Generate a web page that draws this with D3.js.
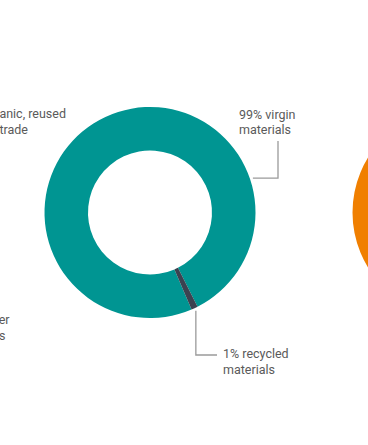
<!DOCTYPE html>
<html><head><meta charset="utf-8">
<script src="https://cdn.jsdelivr.net/npm/d3@7"></script>
<style>
html,body{margin:0;padding:0;background:#fff;overflow:hidden;}
svg{display:block;}
text{font-family:Roboto,"Noto Sans",sans-serif;font-size:12.5px;fill:#5a5a5a;}
</style></head>
<body>
<script>
const categories = ["virgin materials", "recycled materials"];
const values = [99, 1];
const labelLines = [["99% virgin", "materials"], ["1% recycled", "materials"]];
const colors = ["#009592", "#3b4250"];
const neighbourCategories = ["other"];
const neighbourValues = [100];
const neighbourColors = ["#f07f00"];
const leftTopLines = ["organic, reused", "or fair trade"];
const leftBottomLines = ["1% other", "materials"];

const W = 368, H = 445;
const cx = 150, cy = 212.5, R = 105.5, r = 62;
const deg = Math.PI / 180;

const svg = d3.select("body").append("svg").attr("width", W).attr("height", H);

// main donut
const centerRecycled = 155 * deg;
const start = centerRecycled - (values[0] + values[1] / 2) / d3.sum(values) * 2 * Math.PI;
const pie = d3.pie().sort(null).startAngle(start).endAngle(start + 2 * Math.PI);
const arcs = pie(values);
const arc = d3.arc().innerRadius(r).outerRadius(R);
const color = d3.scaleOrdinal().domain(categories).range(colors);

const g = svg.append("g").attr("transform", `translate(${cx},${cy})`);
g.selectAll("path").data(arcs).join("path")
  .attr("d", arc)
  .attr("fill", (d, i) => color(categories[i]));

// neighbouring (orange) donut, mostly outside the frame
const ncx = cx + 308;
const ng = svg.append("g").attr("transform", `translate(${ncx},${cy})`);
ng.selectAll("path").data(d3.pie().sort(null)(neighbourValues)).join("path")
  .attr("d", arc)
  .attr("fill", (d, i) => neighbourColors[i]);

// leader lines
function polar(a, rad) { return [cx + rad * Math.sin(a), cy - rad * Math.cos(a)]; }
const lineStyle = s => s.attr("fill", "none").attr("stroke", "#9a9a9a").attr("stroke-width", 1.3);

// virgin label
const pv = polar(71.5 * deg, R + 3);
svg.append("polyline")
  .attr("points", [pv, [278, pv[1]], [278, 141]].map(p => p.join(",")).join(" "))
  .call(lineStyle);
const tv = svg.append("text").attr("x", 239).attr("y", 119);
labelLines[0].forEach((t, i) => tv.append("tspan").attr("x", 239).attr("dy", i ? 15 : 0).text(t));

// recycled label
const pr = polar(centerRecycled, R + 3);
svg.append("polyline")
  .attr("points", [[pr[0], pr[1]], [pr[0], 355], [217, 355]].map(p => p.join(",")).join(" "))
  .call(lineStyle);
const tr = svg.append("text").attr("x", 223).attr("y", 358);
labelLines[1].forEach((t, i) => tr.append("tspan").attr("x", 223).attr("dy", i ? 15.5 : 0).text(t));

// clipped labels of the neighbouring chart on the left
svg.append("text").attr("x", 66).attr("y", 118).attr("text-anchor", "end").text(leftTopLines[0]);
svg.append("text").attr("x", 28).attr("y", 133.5).attr("text-anchor", "end").text(leftTopLines[1]);
svg.append("text").attr("x", 9.5).attr("y", 324).attr("text-anchor", "end").text(leftBottomLines[0]);
svg.append("text").attr("x", 5.5).attr("y", 340).attr("text-anchor", "end").text(leftBottomLines[1]);
</script>
</body></html>
